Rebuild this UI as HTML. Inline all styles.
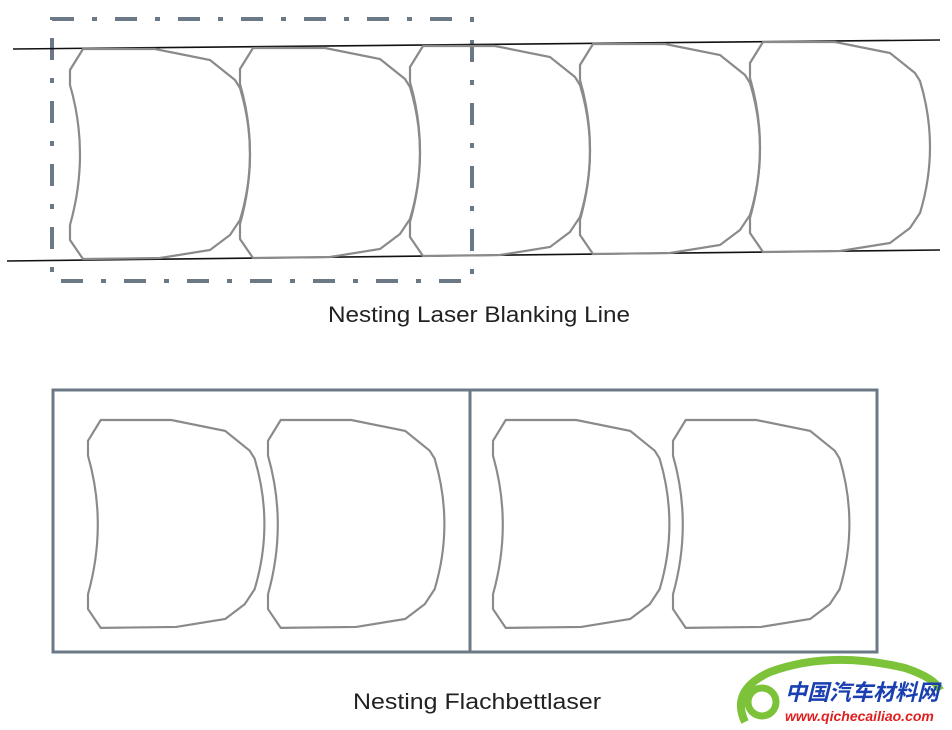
<!DOCTYPE html>
<html><head><meta charset="utf-8"><style>
html,body{margin:0;padding:0;background:#fff;width:952px;height:730px;overflow:hidden}
</style></head><body>
<svg width="952" height="730" viewBox="0 0 952 730" xmlns="http://www.w3.org/2000/svg">
<defs>
<path id="b" d="M13,0 L85,0 L140,11 L165,31 L170,39 Q190,105 170,171 L160,186 L140,201 L90,209 L13,210 L0,191 L0,176 Q20,105 0,36 L0,21 Z" fill="none" stroke="#8a8a8a" stroke-width="2.2"/>
</defs>
<rect x="52" y="19" width="420" height="262" fill="none" stroke="#6b7886" stroke-width="4" stroke-dasharray="22,18,5,18"/>
<line x1="13" y1="49" x2="940" y2="40" stroke="#111" stroke-width="1.6"/>
<line x1="7" y1="261" x2="940" y2="250" stroke="#111" stroke-width="1.6"/>
<use href="#b" transform="translate(70,49)"/>
<use href="#b" transform="translate(240,48)"/>
<use href="#b" transform="translate(410,46)"/>
<use href="#b" transform="translate(580,44)"/>
<use href="#b" transform="translate(750,42)"/>
<text x="328" y="322" font-family="Liberation Sans, sans-serif" font-size="22" textLength="302" lengthAdjust="spacingAndGlyphs" fill="#222">Nesting Laser Blanking Line</text>
<rect x="53" y="390" width="824" height="262" fill="none" stroke="#6b7886" stroke-width="3"/>
<line x1="470" y1="390" x2="470" y2="652" stroke="#6b7886" stroke-width="3"/>
<use href="#b" transform="translate(88,420) scale(0.98,0.99)"/>
<use href="#b" transform="translate(268,420) scale(0.98,0.99)"/>
<use href="#b" transform="translate(493,420) scale(0.98,0.99)"/>
<use href="#b" transform="translate(673,420) scale(0.98,0.99)"/>
<text x="353" y="709" font-family="Liberation Sans, sans-serif" font-size="22" textLength="248" lengthAdjust="spacingAndGlyphs" fill="#222">Nesting Flachbettlaser</text>
<path d="M745,722 Q730,690 770,672 Q830,650 905,668 Q935,678 940,690" fill="none" stroke="#7cc33a" stroke-width="8"/>
<circle cx="762" cy="702" r="14" fill="none" stroke="#7cc33a" stroke-width="7"/>
<text x="785" y="700" font-family="Liberation Sans, 'Noto Sans CJK SC', sans-serif" font-size="22" font-weight="bold" font-style="italic" fill="#1a3fb0">中国汽车材料网</text>
<text x="785" y="721" font-family="Liberation Sans, sans-serif" font-size="14" font-weight="bold" font-style="italic" fill="#e02020">www.qichecailiao.com</text>
</svg>
</body></html>
